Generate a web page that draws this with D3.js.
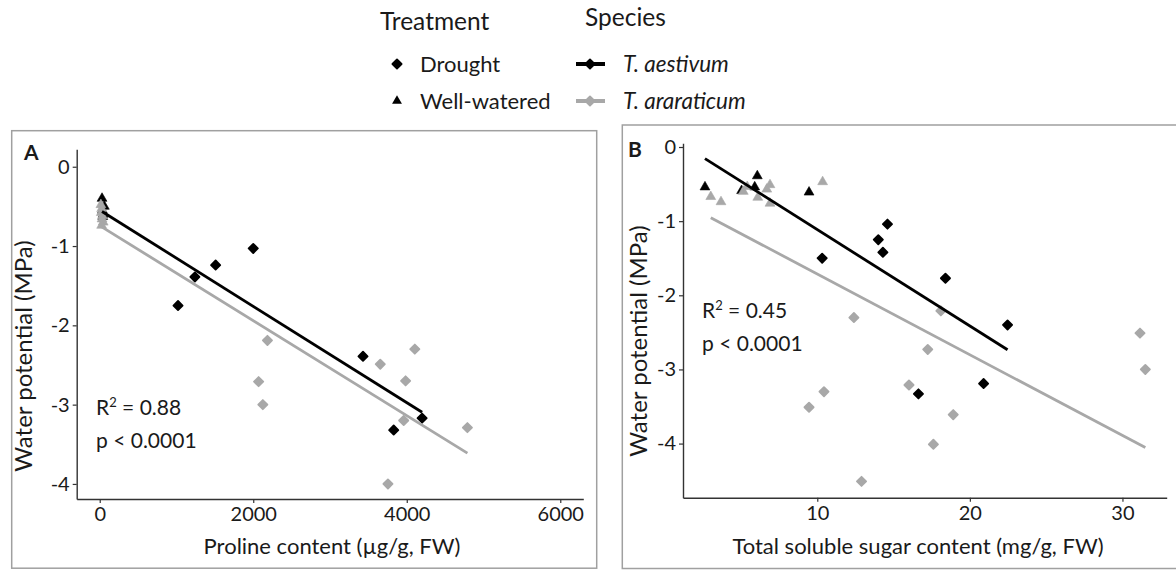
<!DOCTYPE html>
<html>
<head>
<meta charset="utf-8">
<script src="https://cdn.jsdelivr.net/npm/d3@7"></script>
<style>
  body { margin: 0; background: #fff; }
  text { font-family: Lato, "Open Sans", sans-serif; fill: #1a1a1a; }
</style>
</head>
<body>
<svg id="chart" width="1176" height="573"></svg>
<script>
// panel A: proline content vs water potential
var proAesX = [30, 35, 45, 40, 60, 1020, 1240, 1510, 2000, 3430, 3830, 4200];
var proAesY = [-0.40, -0.55, -0.60, -0.63, -0.50, -1.75, -1.39, -1.24, -1.03, -2.39, -3.32, -3.17];
var proAesT = ["W", "W", "W", "W", "W", "D", "D", "D", "D", "D", "D", "D"];
var proAraX = [15, 25, 20, 35, 30, 45, 25, 2185, 2070, 2125, 3655, 4105, 3985, 3960, 3755, 4790];
var proAraY = [-0.48, -0.53, -0.58, -0.62, -0.66, -0.70, -0.74, -2.19, -2.71, -3.00, -2.49, -2.30, -2.70, -3.20, -4.00, -3.29];
var proAraT = ["W", "W", "W", "W", "W", "W", "W", "D", "D", "D", "D", "D", "D", "D", "D", "D"];
// fitted lines [intercept, slope, xmin, xmax]
var proFitAes = [-0.546, -0.000607, 30, 4200];
var proFitAra = [-0.743, -0.000599, 15, 4790];

// panel B: total soluble sugar vs water potential
var sugAesX = [2.64, 6.07, 9.46, 5.04, 5.9, 10.32, 14.0, 14.3, 14.6, 18.4, 22.47, 20.9, 16.63];
var sugAesY = [-0.54, -0.39, -0.61, -0.59, -0.54, -1.50, -1.25, -1.42, -1.04, -1.77, -2.40, -3.19, -3.33];
var sugAesT = ["W", "W", "W", "W", "W", "D", "D", "D", "D", "D", "D", "D", "D"];
var sugAraX = [3.02, 3.69, 5.15, 5.41, 6.1, 6.9, 6.9, 6.69, 10.35, 12.4, 18.1, 17.24, 16.01, 10.44, 9.46, 18.91, 17.61, 12.9, 31.15, 31.5];
var sugAraY = [-0.67, -0.74, -0.60, -0.535, -0.68, -0.51, -0.76, -0.57, -0.47, -2.30, -2.21, -2.73, -3.21, -3.30, -3.51, -3.61, -4.01, -4.51, -2.51, -3.00];
var sugAraT = ["W", "W", "W", "W", "W", "W", "W", "W", "W", "D", "D", "D", "D", "D", "D", "D", "D", "D", "D", "D"];
var sugFitAes = [0.186, -0.130, 2.64, 22.47];
var sugFitAra = [-0.624, -0.1089, 3.02, 31.5];

var yTicks = [0, -1, -2, -3, -4];
var proTicks = [0, 2000, 4000, 6000];
var sugTicks = [10, 20, 30];

var black = "#000000";
var grey = "#a8a8a8";

var svg = d3.select("#chart");

function marker(t) {
    if (t == "W") return d3.symbol(d3.symbolTriangle, 42)();
    return d3.symbol(d3.symbolSquare, 42)();
}

function pts(xs, ys, ts) {
    return xs.map(function (x, i) { return {x: x, y: ys[i], t: ts[i]}; });
}

function drawPanel(p) {
    var g = svg.append("g");
    g.append("rect")
        .attr("x", p.box[0]).attr("y", p.box[1])
        .attr("width", p.box[2]).attr("height", p.box[3])
        .attr("fill", "none").attr("stroke", "#a0a0a0").attr("stroke-width", 1.5);

    var x = d3.scaleLinear().domain(p.xDom).range([p.left, p.right]);
    var y = d3.scaleLinear().domain(p.yDom).range([p.bottom, p.top]);

    var xAxis = g.append("g")
        .attr("transform", "translate(0," + p.bottom + ")")
        .call(d3.axisBottom(x).tickValues(p.xTicks).tickSize(4).tickSizeOuter(0).tickPadding(4)
            .tickFormat(function (d) { return String(d); }));
    var yAxis = g.append("g")
        .attr("transform", "translate(" + p.left + ",0)")
        .call(d3.axisLeft(y).tickValues(yTicks).tickSize(4).tickSizeOuter(0).tickPadding(3)
            .tickFormat(function (d) { return String(d); }));
    [xAxis, yAxis].forEach(function (a) {
        a.select(".domain").attr("stroke", "#333").attr("stroke-width", 1.4);
        a.selectAll(".tick line").attr("stroke", "#333").attr("stroke-width", 1.2);
        a.selectAll(".tick text").style("font-family", "Lato, sans-serif")
            .style("font-size", "20px").attr("fill", "#1a1a1a");
    });

    // points, T. aestivum first so T. araraticum sits on top
    [[p.aes, black], [p.ara, grey]].forEach(function (s) {
        g.selectAll(null)
            .data(s[0])
            .enter()
            .append("path")
            .attr("d", function (d) { return marker(d.t); })
            .attr("transform", function (d) {
                return "translate(" + x(d.x) + "," + y(d.y) + ")" + (d.t == "D" ? " rotate(45)" : "");
            })
            .attr("fill", s[1])
            .attr("stroke", s[1])
            .attr("stroke-width", function (d) { return d.t == "D" ? 1.8 : 0.6; })
            .attr("stroke-linejoin", "round");
    });

    [[p.fitAra, grey], [p.fitAes, black]].forEach(function (f) {
        var c = f[0];
        g.append("line")
            .attr("x1", x(c[2])).attr("y1", y(c[0] + c[1] * c[2]))
            .attr("x2", x(c[3])).attr("y2", y(c[0] + c[1] * c[3]))
            .attr("stroke", f[1]).attr("stroke-width", 2.8);
    });

    g.append("text").attr("x", p.letter[0]).attr("y", p.letter[1])
        .style("font-size", "21px").style("font-weight", "bold").text(p.name);

    var r = g.append("text").attr("x", p.stat[0]).attr("y", p.stat[1]).style("font-size", "21px");
    r.append("tspan").text("R");
    r.append("tspan").attr("dy", -8).style("font-size", "13px").text("2");
    r.append("tspan").attr("dy", 8).text(" = " + p.r2);
    g.append("text").attr("x", p.stat[0]).attr("y", p.stat[1] + 33)
        .style("font-size", "21px").text("p < 0.0001");

    g.append("text")
        .attr("x", p.xTitle[0]).attr("y", p.xTitle[1])
        .attr("text-anchor", "middle").style("font-size", "22px").text(p.xLabel);
    g.append("text")
        .attr("transform", "translate(" + p.yTitle[0] + "," + p.yTitle[1] + ") rotate(-90)")
        .attr("text-anchor", "middle").style("font-size", "24px").text("Water potential (MPa)");
}

drawPanel({
    name: "A", box: [11.7, 130.7, 585, 437.5],
    left: 76.7, right: 583.3, top: 149.3, bottom: 499,
    xDom: [-300, 6300], yDom: [-4.19, 0.22], xTicks: proTicks,
    aes: pts(proAesX, proAesY, proAesT), ara: pts(proAraX, proAraY, proAraT),
    fitAes: proFitAes, fitAra: proFitAra,
    letter: [24, 160], stat: [96, 415], r2: "0.88",
    xLabel: "Proline content (\u00b5g/g, FW)", xTitle: [332, 554], yTitle: [32, 356]
});

drawPanel({
    name: "B", box: [622.3, 125, 560, 443.5],
    left: 683, right: 1166.7, top: 143.3, bottom: 497.7,
    xDom: [1.2, 32.9], yDom: [-4.73, 0.05], xTicks: sugTicks,
    aes: pts(sugAesX, sugAesY, sugAesT), ara: pts(sugAraX, sugAraY, sugAraT),
    fitAes: sugFitAes, fitAra: sugFitAra,
    letter: [628, 157], stat: [702, 318], r2: "0.45",
    xLabel: "Total soluble sugar content (mg/g, FW)", xTitle: [918, 554], yTitle: [647, 341]
});

// legend
var leg = svg.append("g");
leg.append("text").attr("x", 380).attr("y", 30).style("font-size", "24.5px").text("Treatment");
leg.append("text").attr("x", 585).attr("y", 26).style("font-size", "24.5px").text("Species");
leg.append("path").attr("d", marker("D"))
    .attr("transform", "translate(397,64) rotate(45)")
    .attr("fill", black).attr("stroke", black).attr("stroke-width", 1.8).attr("stroke-linejoin", "round");
leg.append("path").attr("d", marker("W")).attr("transform", "translate(397,101)").attr("fill", black);
leg.append("text").attr("x", 420).attr("y", 72).style("font-size", "22px").text("Drought");
leg.append("text").attr("x", 420).attr("y", 109).style("font-size", "22px").text("Well-watered");
[[black, 64, "T. aestivum"], [grey, 101, "T. araraticum"]].forEach(function (s) {
    leg.append("line").attr("x1", 576).attr("x2", 605).attr("y1", s[1]).attr("y2", s[1])
        .attr("stroke", s[0]).attr("stroke-width", 4);
    leg.append("path").attr("d", marker("D"))
        .attr("transform", "translate(590," + s[1] + ") rotate(45)")
        .attr("fill", s[0]).attr("stroke", s[0]).attr("stroke-width", 1.8).attr("stroke-linejoin", "round");
    leg.append("text").attr("x", 623).attr("y", s[1] + 8)
        .style("font-size", "22.5px").style("font-style", "italic").text(s[2]);
});
</script>
</body>
</html>
